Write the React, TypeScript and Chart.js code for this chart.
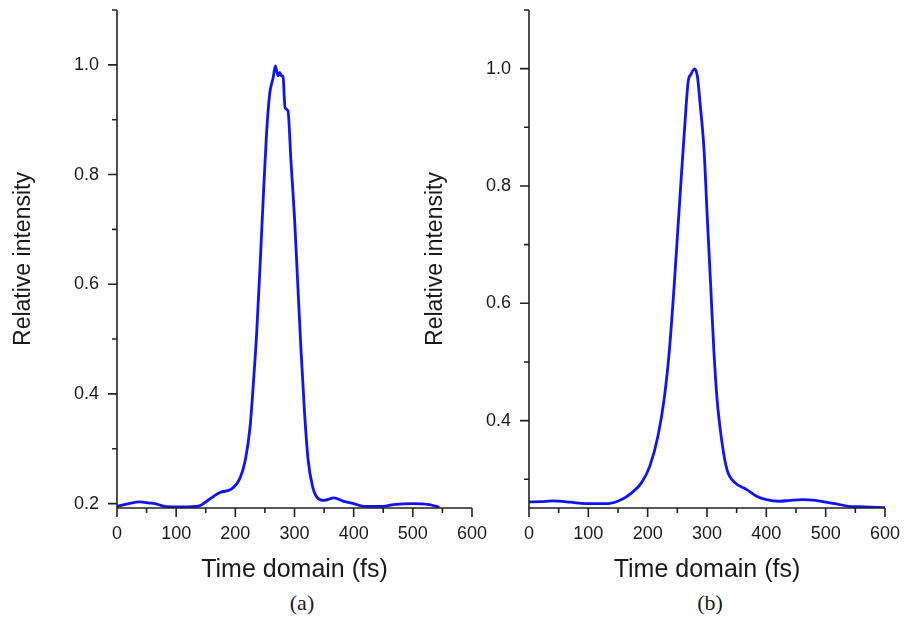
import React, { useEffect, useRef } from 'react';
import { Chart, registerables } from 'chart.js';

Chart.register(...registerables);

// ---- data ----
const TIME_A = [0, 20, 39, 55, 64, 83, 110, 139, 155, 175, 194, 208, 217, 225, 230.5, 236, 241.7, 247, 252.7, 258, 264, 267.7, 272, 275, 277.7, 280.5, 284, 289, 294, 300, 305.5, 311, 316.7, 323, 330.5, 339, 350, 366.7, 383, 400, 417, 450, 467, 500, 528, 545];
const INTENSITY_A = [0.195, 0.2, 0.203, 0.201, 0.2, 0.1945, 0.194, 0.196, 0.207, 0.2206, 0.2267, 0.2467, 0.28, 0.3406, 0.4194, 0.51, 0.6315, 0.7527, 0.874, 0.9467, 0.977, 0.998, 0.98, 0.986, 0.98, 0.98, 0.922, 0.916, 0.825, 0.722, 0.601, 0.48, 0.371, 0.28, 0.2315, 0.2103, 0.206, 0.2103, 0.204, 0.2, 0.195, 0.195, 0.198, 0.2, 0.198, 0.193];

const TIME_B = [0, 20, 40, 70, 95, 134, 156, 173, 189.5, 203.5, 217.3, 228.4, 236.7, 245, 250.5, 256, 261.7, 268.3, 272.7, 279.3, 283.8, 288.3, 295, 300.4, 306, 311.5, 317, 325.4, 333.7, 347.5, 367, 383.5, 400, 422, 440, 461, 483, 500, 516, 539, 566, 600];
const INTENSITY_B = [0.2614, 0.262, 0.263, 0.261, 0.2585, 0.2585, 0.2653, 0.2768, 0.2938, 0.322, 0.3733, 0.4414, 0.521, 0.6347, 0.72, 0.805, 0.89, 0.978, 0.99, 0.9995, 0.987, 0.9415, 0.862, 0.748, 0.6347, 0.521, 0.436, 0.362, 0.3165, 0.2938, 0.2824, 0.271, 0.2653, 0.2625, 0.264, 0.2653, 0.264, 0.261, 0.2585, 0.2539, 0.253, 0.2517];

const X_TICKS = [0, 100, 200, 300, 400, 500, 600];
const X_MINOR_TICKS = [50, 150, 250, 350, 450, 550];
const Y_TICKS_A = [0.2, 0.4, 0.6, 0.8, 1.0];
const Y_TICKS_B = [0.4, 0.6, 0.8, 1.0];
const Y_MINOR_TICKS = [0.3, 0.5, 0.7, 0.9, 1.1];
const Y_RANGE_A = [0.192, 1.1];
const Y_RANGE_B = [0.251, 1.1];
const X_RANGE = [0, 600];

const X_TITLE = 'Time domain (fs)';
const Y_TITLE = 'Relative intensity';
const CAPTION_A = '(a)';
const CAPTION_B = '(b)';

const SANS = '"Liberation Sans", Arial, sans-serif';
const SERIF = '"Liberation Serif", "Times New Roman", serif';
const LINE_COLOR = '#1212f8';
const AXIS_COLOR = '#222222';
const TEXT_COLOR = '#1a1a1a';

const axisPlugin = {
  id: 'axes',
  afterDraw(chart: any, _args: any, opts: any) {
    const { ctx, chartArea, scales } = chart;
    const xs = scales.x;
    const ys = scales.y;
    ctx.save();
    ctx.strokeStyle = AXIS_COLOR;
    ctx.lineWidth = 1.6;
    ctx.lineCap = 'butt';
    ctx.beginPath();
    ctx.moveTo(chartArea.left, chartArea.top);
    ctx.lineTo(chartArea.left, chartArea.bottom);
    ctx.lineTo(chartArea.right, chartArea.bottom);
    ctx.stroke();
    const b = chartArea.bottom;
    const l = chartArea.left;
    ctx.beginPath();
    (opts.xMajor || []).forEach((v: number) => {
      const p = xs.getPixelForValue(v);
      ctx.moveTo(p, b);
      ctx.lineTo(p, b + 9);
    });
    (opts.xMinor || []).forEach((v: number) => {
      const p = xs.getPixelForValue(v);
      ctx.moveTo(p, b);
      ctx.lineTo(p, b + 5);
    });
    (opts.yMajor || []).forEach((v: number) => {
      const p = ys.getPixelForValue(v);
      ctx.moveTo(l, p);
      ctx.lineTo(l - 9, p);
    });
    (opts.yMinor || []).forEach((v: number) => {
      const p = ys.getPixelForValue(v);
      ctx.moveTo(l, p);
      ctx.lineTo(l - 5, p);
    });
    ctx.stroke();
    ctx.restore();
  },
};

type PanelProps = {
  time: number[];
  intensity: number[];
  yTicks: number[];
  yRange: number[];
  left: number;
  width: number;
  yAxisWidth: number;
  yTitlePad: number;
};

function Panel({ time, intensity, yTicks, yRange, left, width, yAxisWidth, yTitlePad }: PanelProps) {
  const ref = useRef<HTMLCanvasElement | null>(null);
  useEffect(() => {
    if (!ref.current) return;
    const chart = new Chart(ref.current, {
      type: 'line',
      data: {
        datasets: [
          {
            data: time.map((t, i) => ({ x: t, y: intensity[i] })),
            borderColor: LINE_COLOR,
            borderWidth: 2.8,
            pointRadius: 0,
            fill: false,
            cubicInterpolationMode: 'monotone',
          },
        ],
      },
      options: {
        responsive: false,
        animation: false,
        layout: { padding: { top: 10, right: 15, left: 0, bottom: 0 } },
        plugins: {
          legend: { display: false },
          tooltip: { enabled: false },
          axes: {
            xMajor: X_TICKS,
            xMinor: X_MINOR_TICKS,
            yMajor: yTicks,
            yMinor: Y_MINOR_TICKS,
          },
        } as any,
        scales: {
          x: {
            type: 'linear',
            min: X_RANGE[0],
            max: X_RANGE[1],
            grid: { display: false, drawTicks: true, tickLength: 10 },
            border: { display: false },
            ticks: {
              autoSkip: false,
              maxRotation: 0,
              padding: 5,
              color: TEXT_COLOR,
              font: { family: SANS, size: 18 },
            },
            afterBuildTicks: (s: any) => {
              s.ticks = X_TICKS.map((v) => ({ value: v }));
            },
            afterFit: (s: any) => {
              s.height = 82;
            },
            title: {
              display: true,
              text: X_TITLE,
              color: TEXT_COLOR,
              font: { family: SANS, size: 25 },
              padding: { top: 0, bottom: 5 },
            },
          },
          y: {
            type: 'linear',
            min: yRange[0],
            max: yRange[1],
            grid: { display: false, drawTicks: true, tickLength: 10 },
            border: { display: false },
            ticks: {
              autoSkip: false,
              padding: 8,
              color: TEXT_COLOR,
              font: { family: SANS, size: 18 },
              callback: (v: any) => Number(v).toFixed(1),
            },
            afterBuildTicks: (s: any) => {
              s.ticks = yTicks.map((v) => ({ value: v }));
            },
            afterFit: (s: any) => {
              s.width = yAxisWidth;
              s.paddingTop = 0;
              s.paddingBottom = 0;
            },
            title: {
              display: true,
              text: Y_TITLE,
              color: TEXT_COLOR,
              font: { family: SANS, size: 23 },
              padding: { top: yTitlePad, bottom: 0 },
            },
          },
        },
      } as any,
      plugins: [axisPlugin],
    });
    return () => chart.destroy();
  }, []);
  return (
    <canvas
      ref={ref}
      width={width}
      height={590}
      style={{ position: 'absolute', left, top: 0, width, height: 590 }}
    />
  );
}

const captionStyle = (x: number): React.CSSProperties => ({
  position: 'absolute',
  left: x,
  top: 603,
  transform: 'translate(-50%, -50%)',
  fontFamily: SERIF,
  fontSize: 22,
  color: TEXT_COLOR,
  whiteSpace: 'nowrap',
  lineHeight: 1,
});

export default function App() {
  return (
    <div
      style={{
        position: 'absolute',
        left: 0,
        top: 0,
        width: 909,
        height: 617,
        background: '#ffffff',
        overflow: 'hidden',
      }}
    >
      <Panel
        time={TIME_A}
        intensity={INTENSITY_A}
        yTicks={Y_TICKS_A}
        yRange={Y_RANGE_A}
        left={0}
        width={492}
        yAxisWidth={117}
        yTitlePad={10}
      />
      <Panel
        time={TIME_B}
        intensity={INTENSITY_B}
        yTicks={Y_TICKS_B}
        yRange={Y_RANGE_B}
        left={420}
        width={485}
        yAxisWidth={109}
        yTitlePad={2}
      />
      <div style={captionStyle(302)}>{CAPTION_A}</div>
      <div style={captionStyle(710)}>{CAPTION_B}</div>
    </div>
  );
}
